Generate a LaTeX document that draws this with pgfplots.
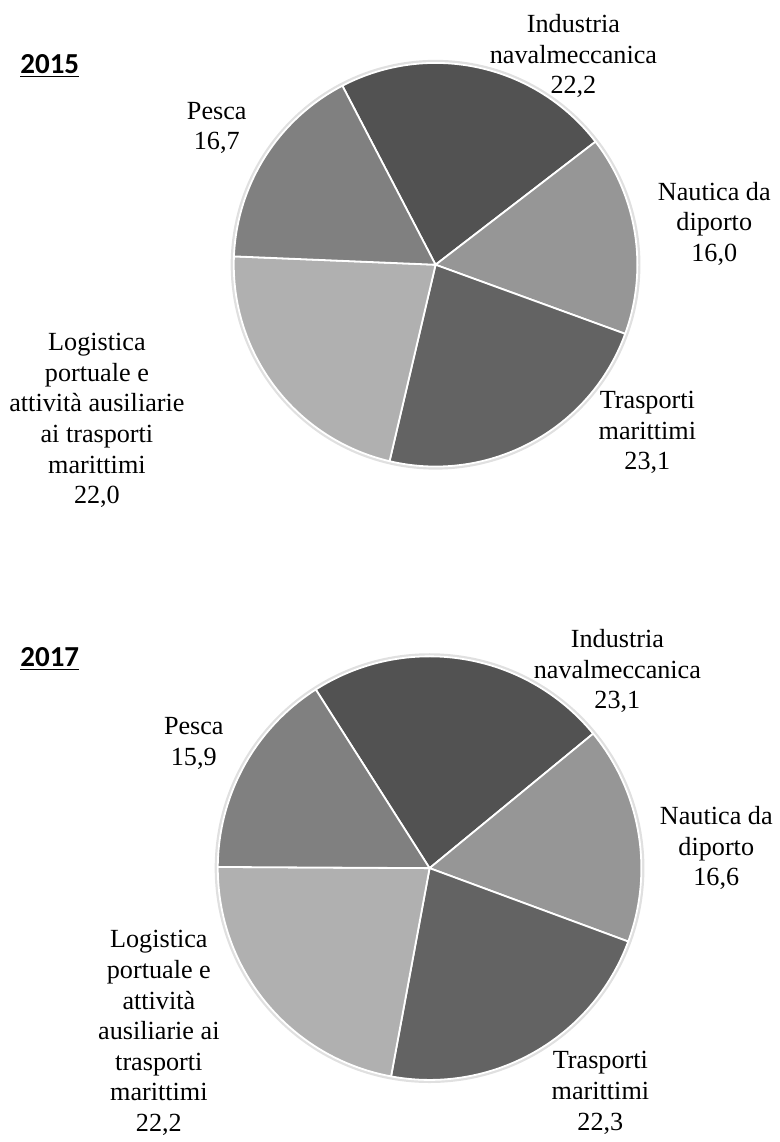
\documentclass[border=0pt]{standalone}
\usepackage{pgfplots}
\usepackage{pgfplotstable}
\pgfplotsset{compat=1.18}
\usepackage{fontspec}
\setmainfont{Liberation Serif}
\newfontfamily\titlefont{Carlito}

\definecolor{cInd}{RGB}{82,82,82}
\definecolor{cNau}{RGB}{150,150,150}
\definecolor{cTra}{RGB}{99,99,99}
\definecolor{cLog}{RGB}{176,176,176}
\definecolor{cPes}{RGB}{128,128,128}

% 2015
\pgfplotstableread{
sector value
Industria 22.2
Nautica 16.0
Trasporti 23.1
Logistica 22.0
Pesca 16.7
}\dataA
% 2017
\pgfplotstableread{
sector value
Industria 23.1
Nautica 16.6
Trasporti 22.3
Logistica 22.2
Pesca 15.9
}\dataB

\makeatletter
\newcommand\pieangles[3]{% #1 table, #2 start angle, #3 prefix
  \def\pie@tot{0}%
  \pgfplotsforeachungrouped \pieidx in {0,...,4}{%
    \pgfplotstablegetelem{\pieidx}{value}\of{#1}%
    \pgfmathsetmacro\pie@tot{\pie@tot+\pgfplotsretval}%
  }%
  \def\pie@cur{#2}%
  \pgfplotsforeachungrouped \pieidx in {0,...,4}{%
    \pgfplotstablegetelem{\pieidx}{value}\of{#1}%
    \pgfmathsetmacro\pie@nxt{\pie@cur-360*\pgfplotsretval/\pie@tot}%
    \expandafter\xdef\csname #3s\pieidx\endcsname{\pie@cur}%
    \expandafter\xdef\csname #3e\pieidx\endcsname{\pie@nxt}%
    \let\pie@cur\pie@nxt
  }%
}
\makeatother

\pieangles{\dataA}{117.5}{PA}
\pieangles{\dataB}{122.5}{PB}

% #1 prefix, #2 index, #3 colour, #4 cx, #5 cy, #6 radius (px)
\newcommand\slice[6]{%
  \fill[#3, draw=white, line width=0.9pt, line join=round]
    (axis cs:#4,#5) -- ([shift={(\csname #1s#2\endcsname:#6*0.5pt)}]axis cs:#4,#5)
    arc[start angle=\csname #1s#2\endcsname, end angle=\csname #1e#2\endcsname, radius=#6*0.5pt]
    -- cycle;
}
\newcommand\lbl{\fontsize{13.1}{15.3}\selectfont}
\newcommand\ttl{\titlefont\bfseries\fontsize{14.5}{17}\selectfont}

\begin{document}
\begin{tikzpicture}
\begin{axis}[
  x=0.5pt, y=0.5pt,
  xmin=0, xmax=777, ymin=0, ymax=1142,
  y dir=reverse,
  hide axis, clip=false,
]
\path (axis cs:0,0) rectangle (axis cs:777,1142);

% ---- 2015 ----
\draw[black!12, line width=1.6pt] (axis cs:436,265) circle[radius=203.5*0.5pt];
\slice{PA}{0}{cInd}{436}{265}{202}
\slice{PA}{1}{cNau}{436}{265}{202}
\slice{PA}{2}{cTra}{436}{265}{202}
\slice{PA}{3}{cLog}{436}{265}{202}
\slice{PA}{4}{cPes}{436}{265}{202}

\node[anchor=west, font=\ttl, inner sep=0pt] at (axis cs:20,66) {\underline{2015}};
\node[align=center, font=\lbl] at (axis cs:574,56) {Industria\\navalmeccanica\\22,2};
\node[align=center, font=\lbl] at (axis cs:715,224) {Nautica da\\diporto\\16,0};
\node[align=center, font=\lbl] at (axis cs:648,433) {Trasporti\\marittimi\\23,1};
\node[align=center, font=\lbl] at (axis cs:97,421) {Logistica\\portuale e\\attività ausiliarie\\ai trasporti\\marittimi\\22,0};
\node[align=center, font=\lbl] at (axis cs:217,128) {Pesca\\16,7};

% ---- 2017 ----
\draw[black!12, line width=1.6pt] (axis cs:430,869) circle[radius=213.5*0.5pt];
\slice{PB}{0}{cInd}{430}{869}{212}
\slice{PB}{1}{cNau}{430}{869}{212}
\slice{PB}{2}{cTra}{430}{869}{212}
\slice{PB}{3}{cLog}{430}{869}{212}
\slice{PB}{4}{cPes}{430}{869}{212}

\node[anchor=west, font=\ttl, inner sep=0pt] at (axis cs:20,660) {\underline{2017}};
\node[align=center, font=\lbl] at (axis cs:618,672) {Industria\\navalmeccanica\\23,1};
\node[align=center, font=\lbl] at (axis cs:717,849) {Nautica da\\diporto\\16,6};
\node[align=center, font=\lbl] at (axis cs:601,1094) {Trasporti\\marittimi\\22,3};
\node[align=center, font=\lbl] at (axis cs:159,1034) {Logistica\\portuale e\\attività\\ausiliarie ai\\trasporti\\marittimi\\22,2};
\node[align=center, font=\lbl] at (axis cs:194,744) {Pesca\\15,9};
\end{axis}
\end{tikzpicture}
\end{document}
